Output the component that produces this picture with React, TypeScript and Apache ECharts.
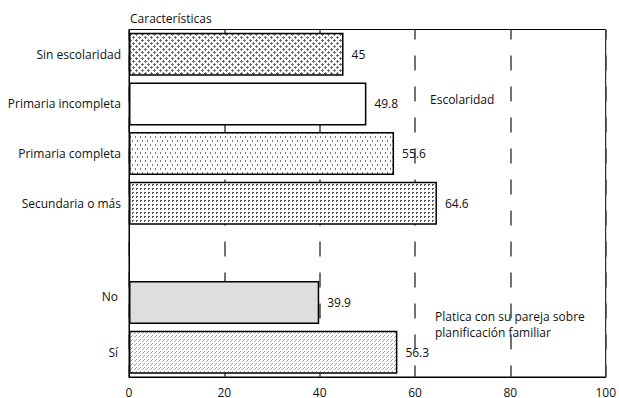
import React, { useEffect, useRef } from "react";
import * as echarts from "echarts";

const categories = [
  "Sin escolaridad",
  "Primaria incompleta",
  "Primaria completa",
  "Secundaria o más",
  "",
  "No",
  "Sí",
];
const values: (number | null)[] = [45, 49.8, 55.6, 64.6, null, 39.9, 56.3];
const xTicks = [0, 20, 40, 60, 80, 100];

const FONT = "Open Sans";

function makePattern(
  w: number,
  h: number,
  pixels: [number, number][],
  color: string,
  bg = "#ffffff"
) {
  const c = document.createElement("canvas");
  c.width = w;
  c.height = h;
  const ctx = c.getContext("2d")!;
  ctx.fillStyle = bg;
  ctx.fillRect(0, 0, w, h);
  ctx.fillStyle = color;
  pixels.forEach(([x, y]) => ctx.fillRect(x, y, 1, 1));
  return {
    image: c.toDataURL(),
    repeat: "repeat",
    imageWidth: w,
    imageHeight: h,
  } as any;
}

export default function App() {
  const ref = useRef<HTMLDivElement>(null);
  useEffect(() => {
    if (!ref.current) return;
    const chart = echarts.init(ref.current, undefined, { renderer: "svg" });

    const plus = (cx: number, cy: number): [number, number][] => [
      [cx, cy],
      [cx - 1, cy],
      [cx + 1, cy],
      [cx, cy - 1],
      [cx, cy + 1],
    ];
    const pCross = makePattern(6, 6, [...plus(1, 1), ...plus(4, 4)], "#6e6e6e");
    const pDash = makePattern(
      5,
      8,
      [
        [0, 0],
        [0, 1],
        [2, 4],
        [2, 5],
      ],
      "#777777"
    );
    const pL = makePattern(
      4,
      4,
      [
        [0, 0],
        [1, 0],
        [0, 1],
      ],
      "#555555"
    );
    const pDiag = makePattern(
      4,
      4,
      [
        [3, 0],
        [2, 1],
        [0, 3],
      ],
      "#a0a0a0"
    );
    const fills: any[] = [pCross, "#ffffff", pDash, pL, "#ffffff", "#dedede", pDiag];

    const data = values.map((v, i) =>
      v == null
        ? { value: null }
        : { value: v, itemStyle: { color: fills[i] } }
    );

    chart.setOption({
      animation: false,
      textStyle: { fontFamily: FONT },
      grid: {
        left: 129,
        right: 13,
        top: 29.5,
        bottom: 19.5,
        show: true,
        borderColor: "#000",
        borderWidth: 1,
        backgroundColor: "transparent",
      },
      xAxis: {
        type: "value",
        min: xTicks[0],
        max: xTicks[xTicks.length - 1],
        interval: 20,
        axisLine: { show: true, lineStyle: { color: "#000", width: 1 } },
        axisTick: { show: false },
        axisLabel: {
          color: "#111",
          fontSize: 12,
          margin: 9,
          fontFamily: FONT,
        },
        splitLine: {
          show: true,
          lineStyle: {
            color: "#444",
            width: 1.5,
            type: [15, 16],
            dashOffset: 4.5,
          },
        },
      },
      yAxis: {
        type: "category",
        data: categories,
        inverse: true,
        axisLine: { show: true, lineStyle: { color: "#000", width: 1 } },
        axisTick: { show: false },
        axisLabel: {
          color: "#111",
          fontSize: 12,
          margin: 8,
          fontFamily: FONT,
          formatter: (v: string) =>
            v === "No" ? "{no|No}" : v === "Sí" ? "{si|Sí}" : v,
          rich: {
            no: { fontSize: 12, fontFamily: FONT, color: "#111", padding: [0, 3, 12, 0] },
            si: { fontSize: 12, fontFamily: FONT, color: "#111", padding: [0, 3, 0, 0] },
          },
        },
        splitLine: { show: false },
      },
      series: [
        {
          type: "bar",
          data,
          barWidth: 43,
          itemStyle: { borderColor: "#000", borderWidth: 1.5 },
          label: {
            show: true,
            position: "right",
            distance: 8,
            color: "#111",
            fontSize: 12,
            fontFamily: FONT,
          },
        },
      ],
      graphic: [
        {
          type: "text",
          left: 130,
          top: 12,
          style: { text: "Características", fontSize: 12, fontFamily: FONT, fill: "#111" },
        },
        {
          type: "text",
          left: 430,
          top: 93,
          style: { text: "Escolaridad", fontSize: 12, fontFamily: FONT, fill: "#111" },
        },
        {
          type: "text",
          left: 435,
          top: 308,
          style: {
            text: "Platica con su pareja sobre\nplanificación familiar",
            fontSize: 12,
            lineHeight: 16,
            fontFamily: FONT,
            fill: "#111",
          },
        },
      ],
    });
    return () => chart.dispose();
  }, []);
  return (
    <div
      ref={ref}
      style={{ position: "absolute", left: 0, top: 0, width: 619, height: 398 }}
    />
  );
}
